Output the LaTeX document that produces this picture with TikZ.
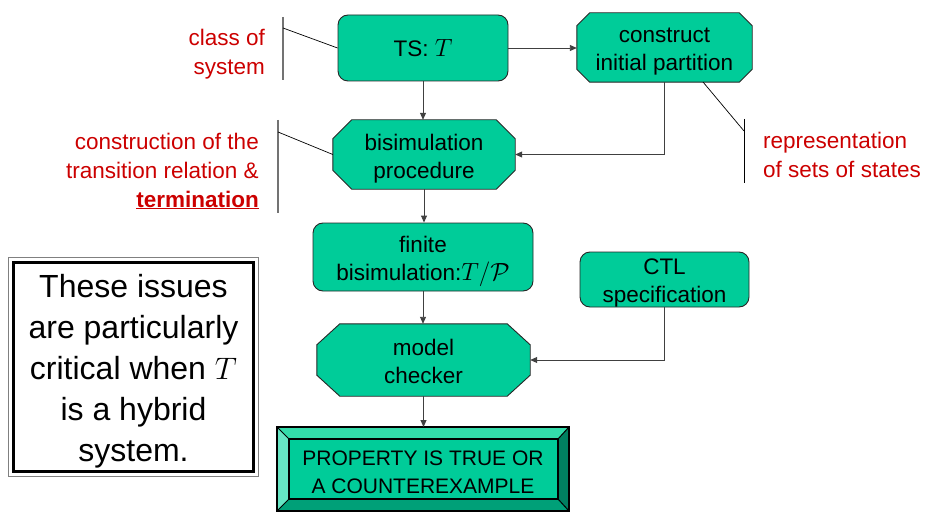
\documentclass[tikz,border=0pt]{standalone}
\usepackage{fontspec}
\setmainfont{Liberation Sans}
\usetikzlibrary{arrows.meta,calc,backgrounds}
\definecolor{boxgreen}{RGB}{0,204,153}
\definecolor{bevellight}{RGB}{102,230,196}
\definecolor{beveltop}{RGB}{51,220,170}
\definecolor{beveldark}{RGB}{0,128,96}
\definecolor{bevelbottom}{RGB}{0,160,120}
\definecolor{notered}{RGB}{204,0,0}
\definecolor{linegray}{RGB}{64,64,64}
\tikzset{
  nodetext/.style={font=\fontsize{22.5}{28}\selectfont, align=center, text=black, inner sep=0pt},
  rbox/.style={draw=black!85, line width=0.9pt, fill=boxgreen, rounded corners=10pt, inner sep=0pt},
  octbox/.style={inner sep=0pt},
  octedge/.style={draw=black!85, line width=0.9pt, fill=boxgreen},
  conn/.style={draw=linegray, line width=0.9pt, -{Triangle[length=7pt,width=6pt]}},
  note/.style={font=\fontsize{22.5}{29}\selectfont, text=notered, inner sep=0pt},
  brace/.style={draw=gray!90!black, line width=1.3pt},
  pointer/.style={draw=black, line width=0.7pt}
}
% enlarged math for the flow nodes
\newcommand{\bigmath}[1]{\scalebox{1.2}{$#1$}}
% octagon outline behind node #1 with corner cut #2 (x) and #3 (y)
\newcommand{\octoutline}[3]{%
  \begin{scope}[on background layer]
    \draw[octedge] ($(#1.north west)+(#2,0)$) -- ($(#1.north east)+(-#2,0)$)
      -- ($(#1.north east)+(0,#3)$) -- ($(#1.south east)+(0,-#3)$)
      -- ($(#1.south east)+(-#2,0)$) -- ($(#1.south west)+(#2,0)$)
      -- ($(#1.south west)+(0,-#3)$) -- ($(#1.north west)+(0,#3)$) -- cycle;
  \end{scope}}
\begin{document}
\begin{tikzpicture}[x=1pt,y=-1pt]
\useasboundingbox (0,0) rectangle (933,513);

% flow shapes
\node[rbox, minimum width=170pt, minimum height=66pt] (ts) at (423,48) {};
\node[octbox, minimum width=175pt, minimum height=69pt] (cip) at (664.5,47.5) {};
\octoutline{cip}{13}{13}
\node[octbox, minimum width=182pt, minimum height=69pt] (bis) at (424,154.5) {};
\octoutline{bis}{19}{19}
\node[rbox, minimum width=220pt, minimum height=68pt] (fin) at (423,257) {};
\node[rbox, minimum width=169pt, minimum height=55pt] (ctl) at (664.5,279.5) {};
\node[octbox, minimum width=213pt, minimum height=72pt] (mc) at (423.5,360) {};
\octoutline{mc}{23}{21}

% their labels
\node[nodetext] (ts-t) at (ts.center) {TS: \bigmath{T}};
\node[nodetext] (cip-t) at ($(cip.center)+(0,4)$) {construct\\initial partition};
\node[nodetext] (bis-t) at ($(bis.center)+(0,4)$) {bisimulation\\procedure};
\node[nodetext] (fin-t) at ($(fin.center)+(0,4)$) {finite\\bisimulation:\bigmath{T/\mathcal{P}}};
\node[nodetext] (ctl-t) at ($(ctl.center)+(0,3.5)$) {CTL\\specification};
\node[nodetext] (mc-t) at ($(mc.center)+(0,1.5)$) {model\\checker};

% beveled result box
\node[draw=black, line width=2pt, fill=boxgreen, minimum width=290pt, minimum height=82pt,
      inner sep=0pt] (prop) at (423,469) {};
\coordinate (pi1) at ($(prop.north west)+(12,12)$);
\coordinate (pi2) at ($(prop.north east)+(-11,12)$);
\coordinate (pi3) at ($(prop.south east)+(-11,-12)$);
\coordinate (pi4) at ($(prop.south west)+(12,-12)$);
\fill[beveltop] (prop.north west) -- (prop.north east) -- (pi2) -- (pi1) -- cycle;
\fill[bevellight] (prop.north west) -- (pi1) -- (pi4) -- (prop.south west) -- cycle;
\fill[beveldark] (prop.north east) -- (prop.south east) -- (pi3) -- (pi2) -- cycle;
\fill[bevelbottom] (prop.south west) -- (pi4) -- (pi3) -- (prop.south east) -- cycle;
\draw[black, line width=1pt] (prop.north west) -- (pi1) (prop.north east) -- (pi2)
  (prop.south east) -- (pi3) (prop.south west) -- (pi4);
\draw[black, line width=2pt] (pi1) rectangle (pi3);
\draw[black, line width=2pt] (prop.north west) rectangle (prop.south east);
\node[font=\fontsize{21}{28}\selectfont, align=center, inner sep=0pt] (proptext)
  at ($(prop.center)+(0,3)$) {PROPERTY IS TRUE OR\\A COUNTEREXAMPLE};

% connectors
\draw[conn] (ts.east) -- (ts.east -| cip.west);
\draw[conn] (ts.south) -- (ts.south |- bis.north);
\draw[conn] (cip.south) |- (bis.east);
\draw[conn] (bis.south) -- (bis.south |- fin.north);
\draw[conn] (fin.south) -- (fin.south |- mc.north);
\draw[conn] (ctl.south) |- (mc.east);
\draw[conn] (mc.south) -- (mc.south |- prop.north);

% annotations
\node[note, align=right, anchor=east] (n1) at (265,54.5) {class of\\system};
\coordinate (b1t) at (283,17);
\coordinate (b1b) at (283,80);
\coordinate (b1p) at (283,28);
\draw[brace] (b1t) -- (b1b);
\draw[pointer] (b1p) -- (ts.west);

\node[note, align=right, anchor=east] (n2) at (259,171)
  {construction of the\\transition relation \&\\\underline{\textbf{termination}}};
\coordinate (b2t) at (278,120);
\coordinate (b2b) at (278,213);
\coordinate (b2p) at (278,132);
\draw[brace] (b2t) -- (b2b);
\draw[pointer] (b2p) -- (bis.west);

\node[note, align=left, anchor=west] (n3) at (763,155) {representation\\of sets of states};
\coordinate (b3t) at (744,119);
\coordinate (b3b) at (744,183);
\coordinate (b3p) at (744,131);
\coordinate (b3q) at (703,82);
\draw[draw=black, line width=1pt] (b3t) -- (b3b);
\draw[pointer] (b3p) -- (b3q);

% remark box
\draw[gray, line width=0.8pt] (8.5,257.5) rectangle (258.5,476.5);
\draw[black, line width=3pt] (13.5,262.5) rectangle (253.5,471.5);
\node[font=\fontsize{32}{41}\selectfont, align=center, inner sep=0pt] (remark) at (133.5,371)
  {These issues\\are particularly\\critical when \scalebox{1.25}{$T$}\\is a hybrid\\system.};
\end{tikzpicture}
\end{document}
